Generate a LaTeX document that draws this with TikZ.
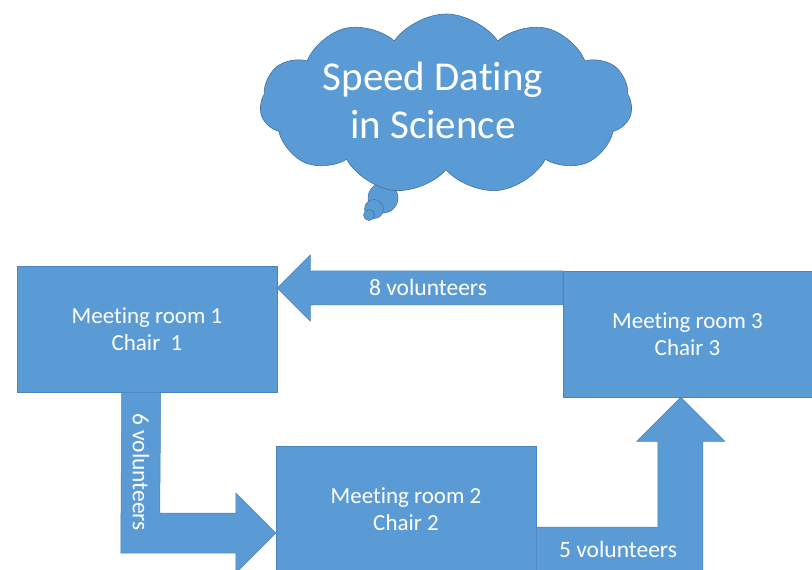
\documentclass[tikz,border=0pt]{standalone}
\usepackage{fontspec}
\setmainfont{Carlito}[Ligatures={NoCommon}]
\usetikzlibrary{shapes.symbols,calc}
\definecolor{ofblue}{HTML}{5B9BD5}
\definecolor{ofedge}{HTML}{4A84BD}
\definecolor{cloudedge}{HTML}{41719C}
\tikzset{
  room/.style={rectangle, fill=ofblue, draw=ofedge, line width=0.5pt, inner sep=0pt,
    minimum width=260pt, minimum height=126pt, text=white, align=center,
    font=\fontsize{23}{27}\selectfont},
  flow/.style={fill=ofblue, draw=ofedge, line width=0.5pt, line join=miter},
  flowlabel/.style={text=white, inner sep=0pt, font=\fontsize{23.5}{27}\selectfont},
  bubble/.style={fill=ofblue, draw=cloudedge, line width=0.5pt}
}
\begin{document}
\begin{tikzpicture}[x=1pt,y=-1pt]
\useasboundingbox (0,0) rectangle (812,570);
\begin{scope}
\clip (0,0) rectangle (812,570);
% thought bubble tail
\draw[bubble] (383,198) circle (15);
\draw[bubble] (374,209) circle (9.5);
\draw[bubble] (369,215) circle (5.5);
% cloud
\node[cloud, cloud puffs=11, cloud puff arc=110, aspect=2.1, fill=ofblue, draw=cloudedge,
  line width=0.6pt, minimum width=372pt, minimum height=180pt, inner sep=0pt] (cloud) at (446,104) {};
\node[text=white, align=center, font=\fontsize{41}{48}\selectfont] (title) at (433,100) {Speed Dating\\in Science};

% rooms
\node[room] (b1) at (147,329) {Meeting room 1\\Chair~ 1};
\node[room, minimum width=249pt] (b3) at (687.5,334) {Meeting room 3\\Chair 3};
\node[room] (b2) at (406,509) {Meeting room 2\\Chair 2};

% arrow 8 volunteers: b3 -> b1
\coordinate (t8) at ($(b1.east)+(0,-41)$);
\fill[flow] (b3.north west) -- ($(t8)+(33,-17)$) -- ($(t8)+(33,-33)$) -- (t8)
  -- ($(t8)+(33,33)$) -- ($(t8)+(33,17)$) -- ($(b3.north west)+(0,34)$) -- cycle;
\node[flowlabel] (l8) at (428,287) {8 volunteers};

% arrow 6 volunteers: b1 -> b2
\coordinate (t6) at ($(b2.west)+(0,24)$);
\fill[flow] ($(b1.south west)+(105,0)$) -- ($(b1.south west)+(144,0)$)
  -- ($(t6)+(-116,-20)$) -- ($(t6)+(-40,-20)$) -- ($(t6)+(-40,-40)$) -- (t6)
  -- ($(t6)+(-40,40)$) -- ($(t6)+(-40,20)$) -- ($(t6)+(-155,20)$) -- cycle;
\node[flowlabel, rotate=-90] (l6) at (141,472) {6 volunteers};

% arrow 5 volunteers: b2 -> b3
\coordinate (t5) at ($(b3.south west)+(118,0)$);
\fill[flow] ($(b2.east)+(0,18)$) -- ($(t5)+(-23,130)$) -- ($(t5)+(-23,44)$) -- ($(t5)+(-44,44)$)
  -- (t5) -- ($(t5)+(44,44)$) -- ($(t5)+(22,44)$) -- ($(t5)+(22,176)$) -- ($(b2.east)+(0,63)$) -- cycle;
\node[flowlabel] (l5) at (618,549) {5 volunteers};
\end{scope}
\end{tikzpicture}
\end{document}
